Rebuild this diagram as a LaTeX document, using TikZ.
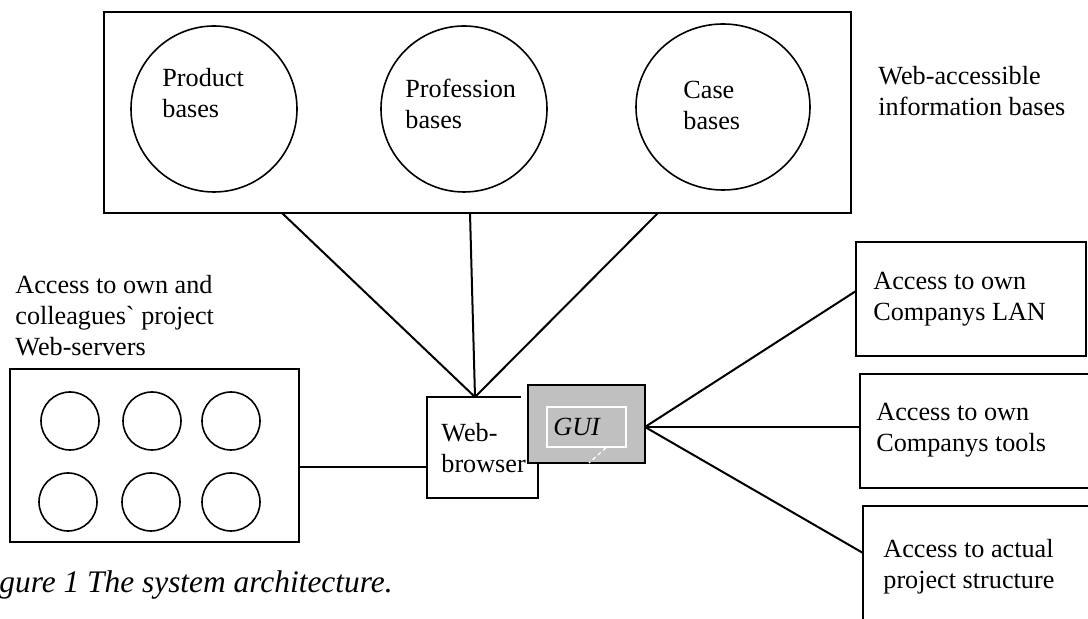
\documentclass[tikz,border=0pt]{standalone}
\usepackage{fontspec}
\setmainfont{Liberation Serif}
\usetikzlibrary{fit,shapes.geometric}
\definecolor{guigrey}{HTML}{C0C0C0}
\begin{document}
\begin{tikzpicture}[x=0.5pt,y=-0.5pt,
  box/.style={draw, line width=1pt, inner sep=0pt, outer sep=0pt},
  kbase/.style={circle, draw, line width=0.8pt, inner sep=0pt, minimum size=83pt},
  srv/.style={circle, draw, line width=0.8pt, inner sep=0pt, minimum size=29pt},
  link/.style={line width=1pt},
  % multi-line labels are placed by the baseline of their last line
  lbl/.style={anchor=base west, align=left, inner sep=0pt, font=\fontsize{13.1}{15.5}\selectfont},
]
\useasboundingbox (0,0) rectangle (1088,619);
\clip (0,0) rectangle (1088,619);

% information bases
\node[box, fit={(104,12)(851,213)}] (ib) {};
\node[kbase] (prod) at (214,109) {};
\node[kbase] (prof) at (464,109) {};
\node[ellipse, draw, line width=0.8pt, inner sep=0pt, minimum width=87pt, minimum height=83pt] (case) at (723,107) {};
\node[lbl] (prodt) at (162,118) {Product\\bases};
\node[lbl] (proft) at (405,129) {Profession\\bases};
\node[lbl] (caset) at (683,130) {Case\\bases};
\node[lbl] (ibt) at (878,116) {Web-accessible\\information bases};

% project web-servers
\node[lbl] (srvt) at (15,356) {Access to own and\\colleagues\textasciigrave{} project\\Web-servers};
\node[box, fit={(10,369)(299,542)}] (lb) {};
\foreach \i/\x/\y in {1/70/421, 2/152/421, 3/231/421, 4/68/502, 5/151/502, 6/231/502}
  \node[srv] (s\i) at (\x,\y) {};

% browser and GUI
\node[box, fit={(427,397)(538,498)}] (br) {};
\fill[white] (521,384) rectangle (528,464);
\node[box, fill=guigrey, fit={(528,385)(645,463)}] (gui) {};
\node[draw=white, fill=guigrey, line width=0.7pt, inner sep=0pt, fit={(547,407)(626,447)}] (guiin) {};
\node[lbl, font=\fontsize{13.1}{15.5}\selectfont\itshape] (guit) at (553,436) {GUI};
\draw[white, line width=0.6pt, dash pattern=on 2pt off 1.5pt] (guiin.south -| 606,0) -- (gui.south -| 589,0);
\node[lbl] (brt) at (441,473) {Web-\\browser};

% access boxes
\node[box, fit={(856,242)(1086,356)}] (lan) {};
\node[lbl] (lant) at (873,321) {Access to own\\Companys LAN};
\node[box, fit={(860,374)(1096,488)}] (tools) {};
\node[lbl] (toolst) at (876,452) {Access to own\\Companys tools};
\node[box, fit={(863,506)(1096,640)}] (proj) {};
\node[lbl] (projt) at (883,589) {Access to actual\\project structure};

% connectors
\coordinate (apex) at (475,397);
\coordinate (hub) at (645,427);
\draw[link] (ib.south -| 282,0) -- (apex);
\draw[link] (ib.south -| 470,0) -- (apex);
\draw[link] (ib.south -| 658,0) -- (apex);
\draw[link] (lb.east |- 0,467) -- (br.west |- 0,467);
\draw[link] (hub) -- (lan.west |- 0,291);
\draw[link] (hub) -- (tools.west |- hub);
\draw[link] (hub) -- (proj.west |- 0,553);

% caption
\node[anchor=base west, inner sep=0pt, font=\fontsize{15.7}{18}\selectfont\itshape] (cap) at (-1,593) {gure 1 The system architecture.};
\end{tikzpicture}
\end{document}
